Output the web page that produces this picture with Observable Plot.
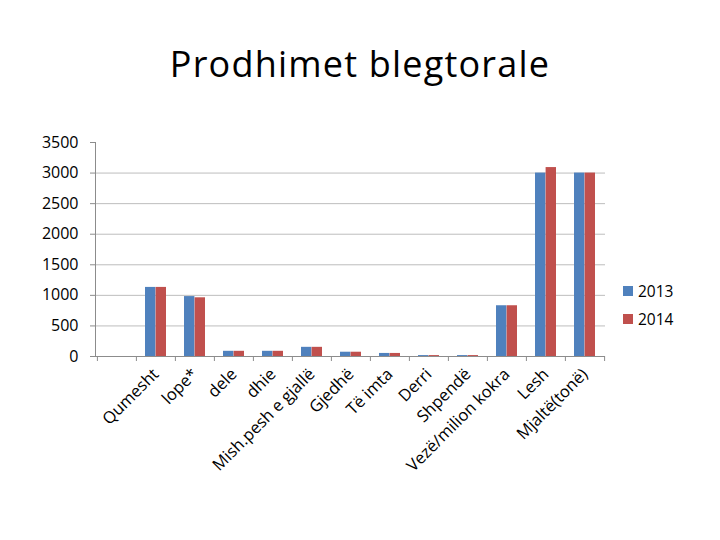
<!DOCTYPE html>
<html>
<head>
<meta charset="utf-8">
<script src="https://cdn.jsdelivr.net/npm/d3@7"></script>
<script src="https://cdn.jsdelivr.net/npm/@observablehq/plot@0.6"></script>
<style>
  html, body { margin: 0; padding: 0; background: #fff; }
  #wrap { position: relative; width: 720px; height: 540px; overflow: hidden; font-family: "Open Sans", sans-serif; }
  #title { position: absolute; left: 0; width: 720px; top: 40px; text-align: center; font-size: 36px; letter-spacing: 1.2px; line-height: 48px; color: #000; }
  #legend { position: absolute; left: 623px; top: 277px; font-size: 15.5px; color: #000; }
  .li { display: flex; align-items: center; height: 28px; }
  .sw { width: 10px; height: 10px; margin-right: 5px; }
  #chart { position: absolute; left: 0; top: 0; }
</style>
</head>
<body>
<div id="wrap">
  <div id="chart"></div>
  <div id="title">Prodhimet blegtorale</div>
  <div id="legend"></div>
</div>
<script>
const categories = ["", "Qumesht", "lope*", "dele", "dhie", "Mish.pesh e gjallë", "Gjedhë", "Të imta", "Derri", "Shpendë", "Vezë/milion kokra", "Lesh", "Mjaltë(tonë)"];
const values2013 = [null, 1130, 980, 85, 85, 150, 70, 50, 15, 15, 830, 3000, 3000];
const values2014 = [null, 1130, 960, 85, 85, 150, 70, 50, 15, 15, 830, 3090, 3000];
const years = ["2013", "2014"];
const colors = ["#4F81BD", "#C0504D"];
const yTicks = [0, 500, 1000, 1500, 2000, 2500, 3000, 3500];

const rows = categories.map((c, i) => ({cat: c, v2013: values2013[i], v2014: values2014[i]})).filter(d => d.v2013 != null);

const chart = Plot.plot({
  width: 720,
  height: 540,
  marginLeft: 95,
  marginRight: 115,
  marginTop: 142,
  marginBottom: 184,
  style: {fontFamily: "Open Sans, sans-serif", background: "transparent"},
  x: {domain: categories, paddingInner: 0, paddingOuter: 0, label: null},
  y: {domain: [0, 3500], label: null},
  marks: [
    Plot.ruleY(yTicks.filter(d => d > 0 && d < 3500), {stroke: "#bdbdbd"}),
    Plot.barY(rows, {x: "cat", y: "v2013", fill: colors[0], insetLeft: 9, insetRight: 19.6}),
    Plot.barY(rows, {x: "cat", y: "v2014", fill: colors[1], insetLeft: 19.6, insetRight: 9}),
    Plot.ruleY([0], {stroke: "#8c8c8c", insetLeft: -5}),
    Plot.frame({anchor: "left", stroke: "#8c8c8c"}),
    Plot.axisY({ticks: yTicks, tickFormat: d => String(d), tickSize: 5, tickPadding: 12, stroke: "#8c8c8c", fill: "#000", fontSize: 16, label: null}),
    Plot.ruleX(categories, {x: d => d, y1: 0, y2: 0, dx: -19.6, insetBottom: -5, stroke: "#8c8c8c"}),
    Plot.ruleX([categories[categories.length - 1]], {x: d => d, y1: 0, y2: 0, dx: 19.6, insetBottom: -5, stroke: "#8c8c8c"}),
    Plot.axisX({tickSize: 0, tickRotate: -45, tickPadding: 15, fill: "#000", fontSize: 16.5, label: null})
  ]
});
document.getElementById("chart").appendChild(chart);

const legend = document.getElementById("legend");
years.forEach((y, i) => {
  const li = document.createElement("div");
  li.className = "li";
  li.innerHTML = `<div class="sw" style="background:${colors[i]}"></div><span>${y}</span>`;
  legend.appendChild(li);
});
</script>
</body>
</html>
